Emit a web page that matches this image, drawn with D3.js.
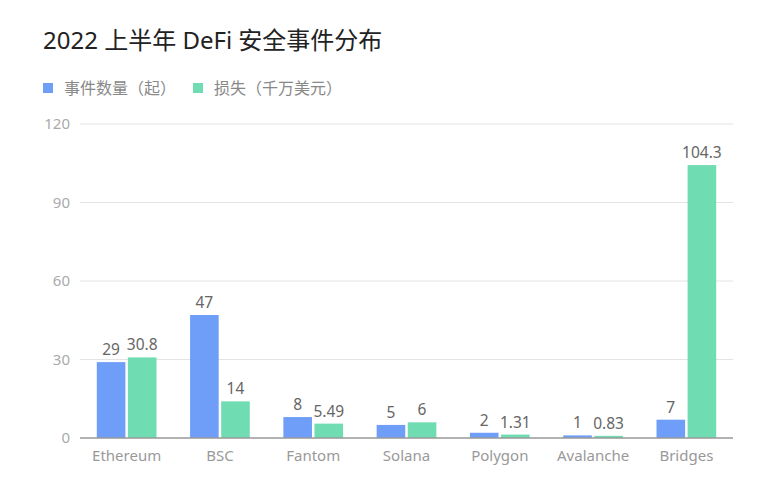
<!DOCTYPE html>
<html>
<head>
<meta charset="utf-8">
<script src="https://cdn.jsdelivr.net/npm/d3@7"></script>
<style>
  body { margin: 0; background: #fff; }
  text { font-family: "Noto Sans", "Noto Sans CJK SC", sans-serif; }
</style>
</head>
<body>
<div id="chart"></div>
<script>
const categories = ["Ethereum", "BSC", "Fantom", "Solana", "Polygon", "Avalanche", "Bridges"];
const incidents = [29, 47, 8, 5, 2, 1, 7];
const losses = [30.8, 14, 5.49, 6, 1.31, 0.83, 104.3];
const yTicks = [0, 30, 60, 90, 120];
const seriesNames = ["事件数量（起）", "损失（千万美元）"];
const seriesColors = ["#6f9ef8", "#70dcb1"];

document.addEventListener("DOMContentLoaded", function () {
    drawChart();
});

function drawChart() {
    const W = 760, H = 484;
    const margin = {top: 124, right: 27, bottom: 46, left: 80};
    const width = W - margin.left - margin.right;
    const height = H - margin.top - margin.bottom;

    const svg = d3.select("#chart")
        .append("svg")
        .attr("width", W)
        .attr("height", H);

    // titulo
    svg.append("text")
        .attr("x", 43)
        .attr("y", 49)
        .attr("font-size", 24)
        .attr("fill", "#222")
        .text("2022 上半年 DeFi 安全事件分布");

    // leyenda
    const legendX = [43, 193];
    seriesNames.forEach((name, i) => {
        const g = svg.append("g").attr("transform", `translate(${legendX[i]},83)`);
        g.append("rect")
            .attr("width", 10).attr("height", 10)
            .attr("fill", seriesColors[i]);
        g.append("text")
            .attr("x", 21).attr("y", 11)
            .attr("font-size", 16)
            .attr("fill", "#888")
            .text(name);
    });

    const plot = svg.append("g")
        .attr("transform", `translate(${margin.left},${margin.top})`);

    const x = d3.scaleBand()
        .domain(categories)
        .range([0, width])
        .paddingInner(0)
        .paddingOuter(0);

    const groupWidth = x.bandwidth() * 0.64;
    const x1 = d3.scaleBand()
        .domain([0, 1])
        .range([(x.bandwidth() - groupWidth) / 2, (x.bandwidth() + groupWidth) / 2])
        .paddingInner(0.08);

    const y = d3.scaleLinear()
        .domain([0, 120])
        .range([height, 0]);

    // lineas de cuadricula
    plot.append("g")
        .selectAll("line")
        .data(yTicks.filter(t => t > 0))
        .enter()
        .append("line")
        .attr("x1", 0).attr("x2", width)
        .attr("y1", d => y(d)).attr("y2", d => y(d))
        .attr("stroke", "#e3e3e3")
        .attr("stroke-width", 1);

    const yAxis = plot.append("g")
        .call(d3.axisLeft(y).tickValues(yTicks).tickSize(0).tickPadding(10));
    yAxis.select(".domain").remove();
    yAxis.selectAll("text")
        .attr("font-size", 15)
        .attr("fill", "#aaa")
        .style("font-family", '"Noto Sans", sans-serif');

    const series = [incidents, losses];
    series.forEach((vals, s) => {
        plot.selectAll(".bar" + s)
            .data(categories)
            .enter()
            .append("rect")
            .attr("class", "bar" + s)
            .attr("x", d => x(d) + x1(s))
            .attr("y", (d, i) => y(vals[i]))
            .attr("width", x1.bandwidth())
            .attr("height", (d, i) => height - y(vals[i]))
            .attr("fill", seriesColors[s]);

        plot.selectAll(".label" + s)
            .data(categories)
            .enter()
            .append("text")
            .attr("class", "label" + s)
            .attr("x", d => x(d) + x1(s) + x1.bandwidth() / 2)
            .attr("y", (d, i) => y(vals[i]) - 7)
            .attr("text-anchor", "middle")
            .attr("font-size", 15.5)
            .attr("fill", "#666")
            .text((d, i) => vals[i]);
    });

    // eje x
    plot.append("line")
        .attr("x1", 0).attr("x2", width)
        .attr("y1", height).attr("y2", height)
        .attr("stroke", "#999")
        .attr("stroke-width", 1.5);

    const xAxis = plot.append("g")
        .attr("transform", `translate(0,${height})`)
        .call(d3.axisBottom(x).tickSize(0).tickPadding(12));
    xAxis.select(".domain").remove();
    xAxis.selectAll("text")
        .attr("font-size", 15)
        .attr("fill", "#999")
        .style("font-family", '"Noto Sans", sans-serif');
}
</script>
</body>
</html>
